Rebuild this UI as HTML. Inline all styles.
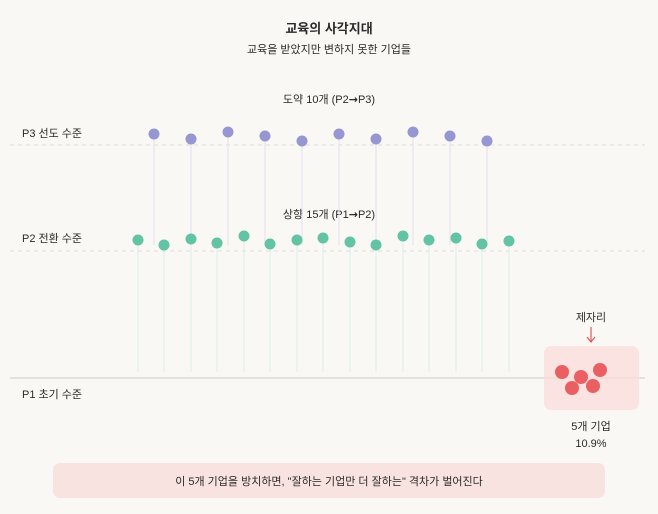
<!DOCTYPE html>
<html><head><meta charset="utf-8"><style>
html,body{margin:0;background:#f9f8f5;overflow:hidden;width:658px;height:514px;}
svg{display:block;}
svg text{font-family:"Liberation Sans","Noto Sans CJK KR",sans-serif;fill:#2a2a2a;}
</style></head><body>
<svg width="658" height="514" viewBox="0 0 658 514" xmlns="http://www.w3.org/2000/svg">
<rect width="658" height="514" fill="#f9f8f5"/>
<text x="329" y="33" font-size="13" font-weight="bold" text-anchor="middle">교육의 사각지대</text>
<text x="329" y="53" font-size="11" text-anchor="middle" fill="#555">교육을 받았지만 변하지 못한 기업들</text>
<text x="329" y="103" font-size="11" text-anchor="middle">도약 10개 (P2<tspan style="font-family:'DejaVu Sans',sans-serif" font-weight="bold">→</tspan>P3)</text>
<text x="329" y="218" font-size="11" text-anchor="middle">상향 15개 (P1<tspan style="font-family:'DejaVu Sans',sans-serif" font-weight="bold">→</tspan>P2)</text>
<text x="22" y="137" font-size="11">P3 선도 수준</text>
<text x="22" y="242" font-size="11">P2 전환 수준</text>
<text x="22" y="398" font-size="11">P1 초기 수준</text>
<line x1="10" y1="145" x2="645" y2="145" stroke="#ddd" stroke-dasharray="4,4"/>
<line x1="10" y1="251" x2="645" y2="251" stroke="#ddd" stroke-dasharray="4,4"/>
<line x1="10" y1="378" x2="645" y2="378" stroke="#ccc"/>
<g stroke="#e3e1ee" stroke-width="1">
<line x1="154" y1="134" x2="154" y2="245"/><line x1="191" y1="139" x2="191" y2="245"/><line x1="228" y1="132" x2="228" y2="245"/><line x1="265" y1="136" x2="265" y2="245"/><line x1="302" y1="141" x2="302" y2="245"/><line x1="339" y1="134" x2="339" y2="245"/><line x1="376" y1="139" x2="376" y2="245"/><line x1="413" y1="132" x2="413" y2="245"/><line x1="450" y1="136" x2="450" y2="245"/><line x1="487" y1="141" x2="487" y2="245"/>
</g>
<g stroke="#dcefe7" stroke-width="1">
<line x1="138" y1="240" x2="138" y2="372"/><line x1="164" y1="245" x2="164" y2="372"/><line x1="191" y1="239" x2="191" y2="372"/><line x1="217" y1="243" x2="217" y2="372"/><line x1="244" y1="236" x2="244" y2="372"/><line x1="270" y1="244" x2="270" y2="372"/><line x1="297" y1="240" x2="297" y2="372"/><line x1="323" y1="238" x2="323" y2="372"/><line x1="350" y1="242" x2="350" y2="372"/><line x1="376" y1="245" x2="376" y2="372"/><line x1="403" y1="236" x2="403" y2="372"/><line x1="429" y1="240" x2="429" y2="372"/><line x1="456" y1="238" x2="456" y2="372"/><line x1="482" y1="244" x2="482" y2="372"/><line x1="509" y1="241" x2="509" y2="372"/>
</g>
<g fill="#9696d2">
<circle cx="154" cy="134" r="5.5"/><circle cx="191" cy="139" r="5.5"/><circle cx="228" cy="132" r="5.5"/><circle cx="265" cy="136" r="5.5"/><circle cx="302" cy="141" r="5.5"/><circle cx="339" cy="134" r="5.5"/><circle cx="376" cy="139" r="5.5"/><circle cx="413" cy="132" r="5.5"/><circle cx="450" cy="136" r="5.5"/><circle cx="487" cy="141" r="5.5"/>
</g>
<g fill="#63c3a5">
<circle cx="138" cy="240" r="5.5"/><circle cx="164" cy="245" r="5.5"/><circle cx="191" cy="239" r="5.5"/><circle cx="217" cy="243" r="5.5"/><circle cx="244" cy="236" r="5.5"/><circle cx="270" cy="244" r="5.5"/><circle cx="297" cy="240" r="5.5"/><circle cx="323" cy="238" r="5.5"/><circle cx="350" cy="242" r="5.5"/><circle cx="376" cy="245" r="5.5"/><circle cx="403" cy="236" r="5.5"/><circle cx="429" cy="240" r="5.5"/><circle cx="456" cy="238" r="5.5"/><circle cx="482" cy="244" r="5.5"/><circle cx="509" cy="241" r="5.5"/>
</g>
<rect x="544" y="346" width="95" height="64" rx="7" fill="#f9dcda" opacity="0.75"/>
<g fill="#ea5f62">
<circle cx="562" cy="372" r="7"/><circle cx="581" cy="377" r="7"/><circle cx="600" cy="370" r="7"/><circle cx="572" cy="388" r="7"/><circle cx="593" cy="386" r="7"/>
</g>
<text x="591" y="321" font-size="11" text-anchor="middle">제자리</text>
<line x1="591" y1="327" x2="591" y2="341" stroke="#e05a5a" stroke-width="1.2"/>
<path d="M587 337 L591 342 L595 337" fill="none" stroke="#e05a5a" stroke-width="1.2"/>
<text x="591" y="430" font-size="11" text-anchor="middle">5개 기업</text>
<text x="591" y="447" font-size="11" text-anchor="middle">10.9%</text>
<rect x="53" y="463" width="552" height="35" rx="7" fill="#f9e3e1"/>
<text x="329" y="485" font-size="11" text-anchor="middle">이 5개 기업을 방치하면, "잘하는 기업만 더 잘하는" 격차가 벌어진다</text>
</svg>
</body></html>
